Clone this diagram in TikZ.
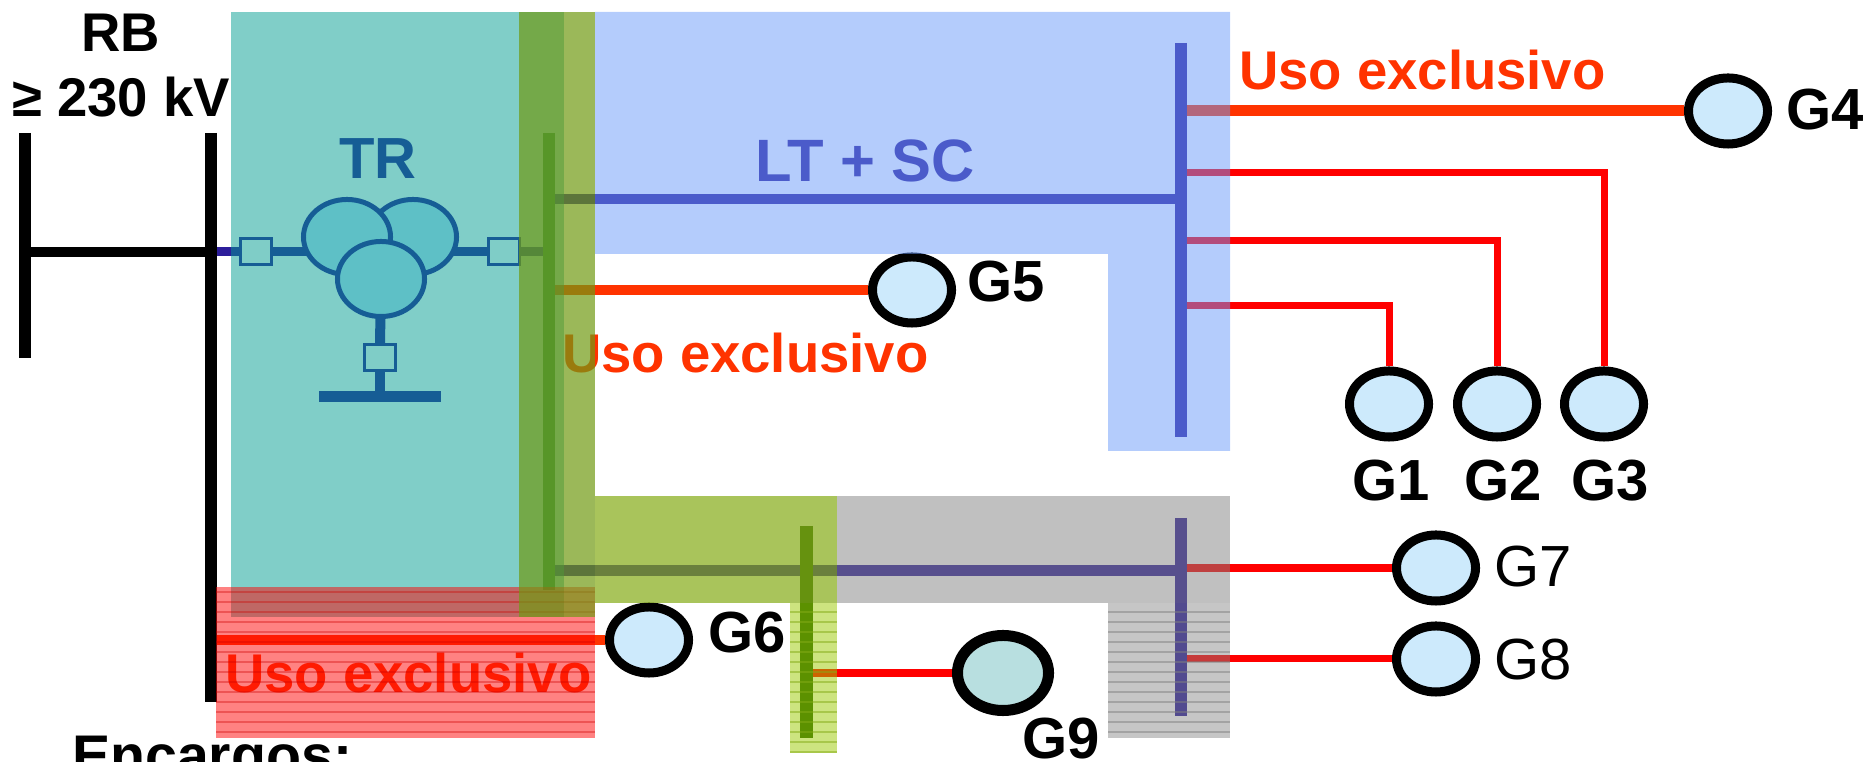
\documentclass[tikz,border=0pt]{standalone}
\usepackage{fontspec}
\setmainfont{Liberation Sans}
\usetikzlibrary{shapes.geometric,backgrounds}
\definecolor{navy}{RGB}{45,30,155}
\definecolor{busgreen}{RGB}{60,130,40}
\definecolor{ninebus}{RGB}{30,90,0}
\definecolor{usored}{RGB}{255,51,0}
\definecolor{genfill}{RGB}{205,234,252}
\definecolor{ninefill}{RGB}{184,223,224}
\definecolor{windfill}{RGB}{189,229,253}
\definecolor{tealfill}{RGB}{1,157,145}
\definecolor{bluefill}{RGB}{105,153,249}
\definecolor{greenfill}{RGB}{112,154,19}
\definecolor{ygfill}{RGB}{133,171,22}
\definecolor{yglight}{RGB}{155,201,0}
\definecolor{grayfill}{RGB}{129,129,129}
\definecolor{redfill}{RGB}{255,5,5}

\begin{document}
\begin{tikzpicture}[x=0.01cm,y=-0.01cm,
  every node/.style={inner sep=0pt,outer sep=0pt},
  txt/.style={font=\bfseries\fontsize{15.5}{18}\selectfont},
  uso/.style={txt,text=usored,anchor=base west},
  gen/.style={ellipse,draw=black,line width=0.09cm,fill=genfill,minimum width=0.79cm,minimum height=0.66cm,outer sep=0.045cm},
  glbl/.style={font=\bfseries\fontsize{16.5}{18}\selectfont,anchor=base west},
  wind/.style={ellipse,draw=navy,line width=0.05cm,fill=windfill,minimum width=0.87cm,minimum height=0.75cm},
  brk/.style={rectangle,draw=navy,line width=0.03cm,fill=white,minimum width=0.30cm,minimum height=0.26cm},
  bus/.style={line width=0.12cm},
  tap/.style={red,line width=0.07cm},
  excl/.style={usored,line width=0.11cm}]

\useasboundingbox (0,0) rectangle (1876,762);

% bars
\coordinate (rbL1) at (25,133);   \coordinate (rbL2) at (25,358);
\coordinate (rbR1) at (211,133);  \coordinate (rbR2) at (211,702);
\coordinate (vA) at (549,133);    \coordinate (vB) at (549,590);
\coordinate (tA) at (1181,43);    \coordinate (tB) at (1181,437);
\coordinate (gA) at (1181,518);   \coordinate (gB) at (1181,716);
\coordinate (nA) at (806,526);    \coordinate (nB) at (806,738);

% texts
\node[txt,anchor=base] (rb) at (121,52) {RB};
\node[txt,anchor=base] (kv) at (121,117) {≥ 230 kV};
\node[font=\bfseries\fontsize{16.5}{18}\selectfont,text=navy,anchor=base] (tr) at (378,179) {TR};
\node[font=\bfseries\fontsize{17}{18}\selectfont,text=navy,anchor=base] (lt) at (865,182) {LT + SC};
\node[uso] (usoA) at (1239,90) {Uso exclusivo};
\node[uso] (usoB) at (562,373) {Uso exclusivo};
\node[uso] (usoC) at (225,693) {Uso exclusivo};
\node[font=\bfseries\fontsize{16.3}{18}\selectfont,anchor=base west] (enc) at (72,776) {Encargos:};

% transformer
\node[brk] (sqL) at (256,252) {};
\node[brk] (sqR) at (504,252) {};
\node[brk] (sqB) at (380,358) {};
\coordinate (gnd) at (380,397);
\begin{scope}[on background layer]
\draw[navy,line width=0.09cm] (rbR1 |- sqL) -- (sqL.west);
\draw[navy,line width=0.09cm] (sqL.east) -- (sqR.west);
\draw[navy,line width=0.1cm] (381,279) -- (sqB.north);
\draw[navy,line width=0.1cm] (sqB.south) -- (gnd);
\end{scope}
\node[wind] (wR) at (413,237) {};
\node[wind] (wL) at (347,237) {};
\node[wind] (wB) at (381,279) {};
\draw[navy,line width=0.11cm] (319,397) -- (441,397);

% generators
\node[gen] (G1) at (1389,404) {};
\node[gen] (G2) at (1497,404) {};
\node[gen] (G3) at (1604,404) {};
\node[gen] (G4) at (1728,111) {};
\node[gen] (G5) at (912,290) {};
\node[gen] (G6) at (649,640) {};
\node[gen] (G7) at (1436,568) {};
\node[gen] (G8) at (1436,659) {};
\node[gen,fill=ninefill,line width=0.11cm,minimum width=0.91cm,minimum height=0.75cm,outer sep=0.055cm] (G9) at (1003,673) {};

\node[glbl,anchor=base] (lG1) at (1391,501) {G1};
\node[glbl,anchor=base] (lG2) at (1503,501) {G2};
\node[glbl,anchor=base] (lG3) at (1610,501) {G3};
\node[glbl] (lG4) at (1786,130) {G4};
\node[glbl] (lG5) at (967,302) {G5};
\node[glbl] (lG6) at (708,653) {G6};
\node[glbl,font=\fontsize{16.5}{18}\selectfont] (lG7) at (1494,587) {G7};
\node[glbl,font=\fontsize{16.5}{18}\selectfont] (lG8) at (1494,680) {G8};
\node[glbl,anchor=base] (lG9) at (1061,759) {G9};

% connectors
\coordinate (t3) at (1181,173);
\coordinate (t2) at (1181,241);
\coordinate (t1) at (1181,306);
\draw[excl] (tA |- G4) -- (G4);
\draw[tap] (t3) -| (G3.north);
\draw[tap] (t2) -| (G2.north);
\draw[tap] (t1) -| (G1.north);
\draw[excl,line width=0.1cm] (vA |- G5) -- (G5);
\draw[excl,line width=0.1cm] (rbR1 |- G6) -- (G6);
\draw[tap,line width=0.08cm] (gA |- G7) -- (G7);
\draw[tap] (gA |- G8) -- (G8);
\draw[tap,line width=0.08cm] (nA |- G9) -- (G9);
\draw[navy,line width=0.1cm] (vA |- 0,199) -- (tA |- 0,199);
\draw[navy,line width=0.11cm] (vA |- 0,571) -- (gA |- 0,571);
\draw[navy,line width=0.09cm] (sqR.east) -- (vA |- sqR);
\draw[black,line width=0.1cm] (rbL1 |- sqL) -- (rbR1 |- sqL);

% buses
\draw[bus,black] (rbL1) -- (rbL2);
\draw[bus,black] (rbR1) -- (rbR2);
\draw[bus,busgreen] (vA) -- (vB);
\draw[bus,navy] (tA) -- (tB);
\draw[bus,navy] (gA) -- (gB);
\draw[bus,line width=0.13cm,ninebus] (nA) -- (nB);

% shaded areas
\fill[tealfill,opacity=0.5] (231,12) rectangle (564,617);
\fill[redfill,opacity=0.5] (216,587) rectangle (595,738);
\foreach \y in {592,602,...,732}
  \draw[red!80!black,opacity=0.35,line width=0.3pt] (216,\y) -- (595,\y);
\fill[greenfill,opacity=0.7] (519,12) rectangle (595,617);
\fill[bluefill,opacity=0.5] (595,12) -- (1230,12) -- (1230,451) -- (1108,451) -- (1108,254) -- (595,254) -- cycle;
\fill[ygfill,opacity=0.7] (595,496) rectangle (837,603);
\fill[yglight,opacity=0.5] (790,603) rectangle (837,753);
\foreach \y in {612,622,...,752}
  \draw[ygfill,opacity=0.5,line width=0.3pt] (790,\y) -- (837,\y);
\fill[grayfill,opacity=0.5] (837,496) rectangle (1230,603);
\fill[grayfill,opacity=0.45] (1108,603) rectangle (1230,738);
\foreach \y in {612,622,...,732}
  \draw[gray,opacity=0.5,line width=0.3pt] (1108,\y) -- (1230,\y);

\end{tikzpicture}
\end{document}
